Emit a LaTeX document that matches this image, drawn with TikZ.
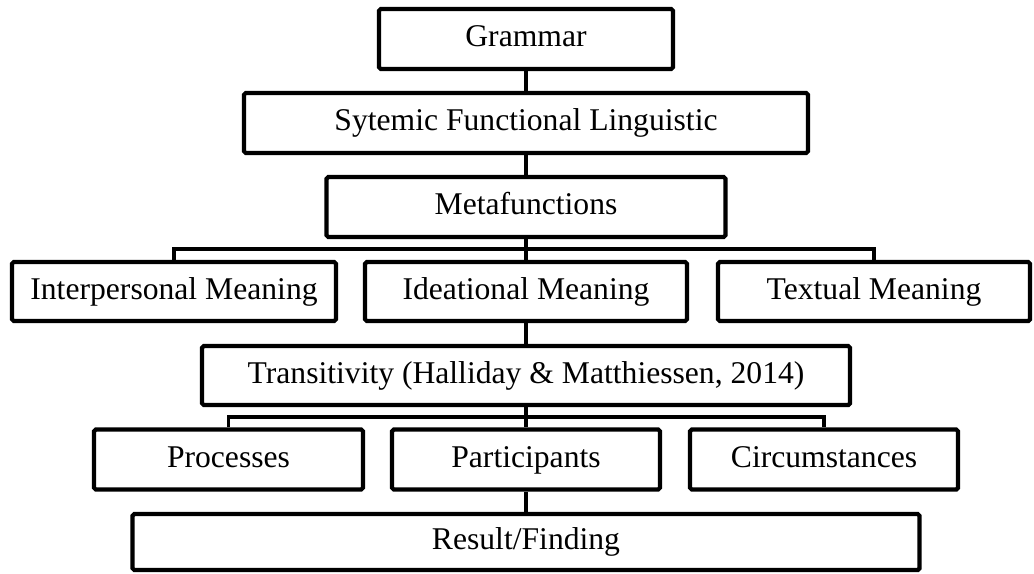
\documentclass[tikz,border=0pt]{standalone}
\usepackage{fontspec}
\setmainfont{Liberation Serif}
\usepackage{tikz}
\usepackage{xcolor}

\begin{document}
\begin{tikzpicture}[x=1cm,y=1cm,
  box/.style={draw, line width=2.4pt, rounded corners=1pt, minimum height=1.2cm,
    inner sep=0pt, text height=12pt, text depth=3pt, font=\fontsize{18}{22}\selectfont},
  link/.style={line width=2.2pt}]
\useasboundingbox (0,0) rectangle (20.68,-11.46);
% top chain
\node[box, minimum width=5.88cm] (gram) at (10.52,-0.78) {Grammar};
\node[box, minimum width=11.28cm] (sfl) at (10.52,-2.46) {Sytemic Functional Linguistic};
\node[box, minimum width=7.98cm] (meta) at (10.52,-4.14) {Metafunctions};
% meanings
\node[box, minimum width=6.48cm, minimum height=1.18cm] (inter) at (3.48,-5.83) {Interpersonal Meaning};
\node[box, minimum width=6.44cm, minimum height=1.18cm] (ideal) at (10.52,-5.83) {Ideational Meaning};
\node[box, minimum width=6.24cm, minimum height=1.18cm] (textm) at (17.48,-5.83) {Textual Meaning};
\node[box, minimum width=12.96cm, minimum height=1.18cm] (trans) at (10.52,-7.51) {Transitivity (Halliday \& Matthiessen, 2014)};
% transitivity parts
\node[box, minimum width=5.38cm] (proc) at (4.57,-9.19) {Processes};
\node[box, minimum width=5.36cm] (part) at (10.52,-9.19) {Participants};
\node[box, minimum width=5.36cm] (circ) at (16.48,-9.19) {Circumstances};
\node[box, minimum width=15.74cm, minimum height=1.12cm] (result) at (10.52,-10.84) {Result/Finding};
% connectors
\coordinate (mbar) at (10.52,-4.98);
\coordinate (tbar) at (10.52,-8.34);
\draw[link] (gram) -- (sfl);
\draw[link] (sfl) -- (meta);
\draw[link] (meta) -- (ideal);
\draw[link] (inter.north) |- (mbar) -| (textm.north);
\draw[link] (ideal) -- (trans);
\draw[link] (trans) -- (part);
\draw[link] (proc.north) |- (tbar) -| (circ.north);
\draw[link] (part) -- (result);
\end{tikzpicture}
\end{document}
